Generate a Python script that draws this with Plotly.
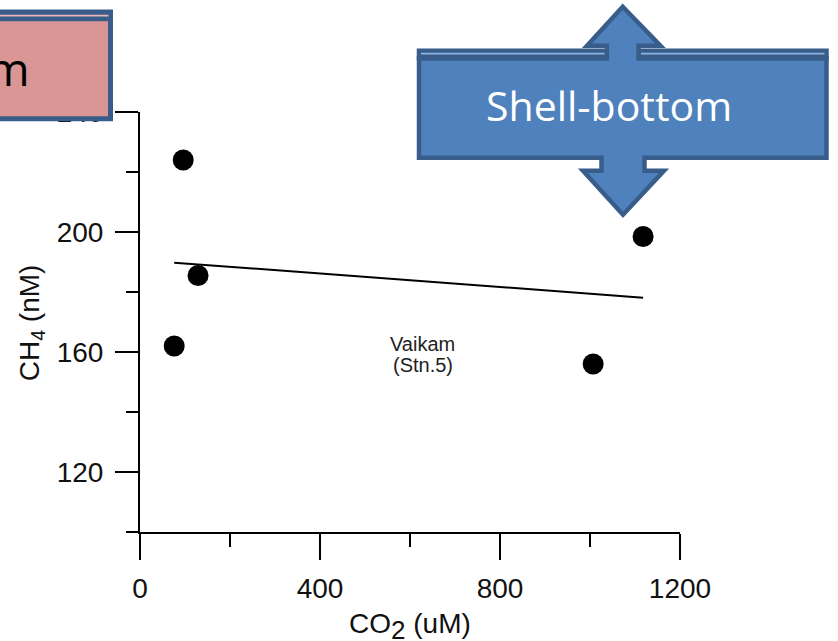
import numpy as np
import plotly.graph_objects as go

# CO2 vs CH4 concentrations at Vaikam (Stn.5)
co2_um = [96, 129, 76, 1118, 1007]
ch4_nm = [224, 185.5, 162, 198.5, 156]

x_range = [0, 1200]
y_range = [100, 240]
x_major = [0, 400, 800, 1200]
y_major = [120, 160, 200, 240]

station_lines = ["Vaikam", "(Stn.5)"]

W, H = 838, 641
# plot area in pixels
PX0, PX1, PY0, PY1 = 140, 680, 111.7, 531.7


def px(x):
    return (x - PX0) / (PX1 - PX0)


def py(y):
    return (PY1 - y) / (PY1 - PY0)


def path(points):
    s = "M " + " L ".join(f"{px(a):.5f},{py(b):.5f}" for a, b in points)
    return s + " Z"


# least-squares trend line across the sampled CO2 span
slope, intercept = np.polyfit(co2_um, ch4_nm, 1)
fit_x = np.array([min(co2_um), max(co2_um)])
fit_y = slope * fit_x + intercept

fig = go.Figure()
fig.add_trace(go.Scatter(
    x=fit_x, y=fit_y, mode="lines",
    line=dict(color="black", width=2), hoverinfo="skip", showlegend=False,
))
fig.add_trace(go.Scatter(
    x=co2_um, y=ch4_nm, mode="markers",
    marker=dict(color="black", size=21, line=dict(width=0)), showlegend=False,
))

tick_font = dict(family="Liberation Sans, Arial, sans-serif", size=28, color="#111111")

fig.update_layout(
    width=W, height=H,
    margin=dict(l=PX0, r=W - PX1, t=PY0, b=H - PY1, autoexpand=False),
    paper_bgcolor="white", plot_bgcolor="white",
    xaxis=dict(
        range=x_range, tickvals=x_major, ticks="outside", ticklen=26, tickwidth=2,
        tickcolor="black", showline=True, linecolor="black", linewidth=2,
        showgrid=False, zeroline=False, tickfont=tick_font, automargin=False,
        minor=dict(dtick=200, tick0=0, ticks="outside", ticklen=13, tickwidth=2,
                   tickcolor="black", showgrid=False),
        ticklabelstandoff=4,
    ),
    yaxis=dict(
        range=y_range, tickvals=y_major, ticks="outside", ticklen=23, tickwidth=2,
        tickcolor="black", showline=True, linecolor="black", linewidth=2,
        showgrid=False, zeroline=False, tickfont=tick_font, automargin=False,
        minor=dict(dtick=20, tick0=0, ticks="outside", ticklen=12, tickwidth=2,
                   tickcolor="black", showgrid=False),
        ticklabelstandoff=6,
    ),
)

title_font = dict(family="Liberation Sans, Arial, sans-serif", size=28, color="#111111")
station_font = dict(family="Liberation Sans, Arial, sans-serif", size=20, color="#222222")
annotations = [
    dict(x=px(31), y=py(322), xref="paper", yref="paper", text="CH<sub>4</sub> (nM)",
         textangle=-90, showarrow=False, font=title_font, xanchor="center", yanchor="middle"),
    dict(x=px(410), y=py(626), xref="paper", yref="paper",
         text='CO<sub><span style="font-size:26px">2</span></sub> (uM)',
         showarrow=False, font=title_font, xanchor="center", yanchor="middle"),
    dict(x=px(422), y=py(344), xref="paper", yref="paper", text=station_lines[0],
         showarrow=False, font=station_font, xanchor="center", yanchor="middle"),
    dict(x=px(423), y=py(364.5), xref="paper", yref="paper", text=station_lines[1],
         showarrow=False, font=station_font, xanchor="center", yanchor="middle"),
    dict(x=px(609), y=py(104.5), xref="paper", yref="paper", text="Shell-bottom",
         showarrow=False, font=dict(family="Open Sans, sans-serif", size=41, color="white"),
         xanchor="center", yanchor="middle"),
    dict(x=px(32), y=py(68), xref="paper", yref="paper", text="m",
         showarrow=False, font=dict(family="Open Sans, sans-serif", size=46, color="black"),
         xanchor="right", yanchor="middle"),
]
fig.update_layout(annotations=annotations)

DARK_BLUE = "#385D8A"
BLUE = "#4F81BD"
LIGHT_BLUE = "#8EB4E3"
PINK = "#D99694"
LIGHT_PINK = "#E8B7B6"

shapes = []
# pink box, cut by the left edge of the page
shapes.append(dict(type="path", xref="paper", yref="paper",
                   path=path([(-10, 18.5), (110.5, 18.5), (110.5, 118.5), (-10, 118.5)]),
                   fillcolor=PINK, line=dict(color=DARK_BLUE, width=5), layer="above"))
shapes.append(dict(type="path", xref="paper", yref="paper",
                   path=path([(-10, 9.3), (113, 9.3), (113, 20.8), (-10, 20.8)]),
                   fillcolor=DARK_BLUE, line=dict(width=0), layer="above"))
shapes.append(dict(type="line", xref="paper", yref="paper",
                   x0=px(-10), x1=px(108.5), y0=py(15.3), y1=py(15.3),
                   line=dict(color=LIGHT_PINK, width=1.8), layer="above"))

# up-down arrow callout
callout = [
    (419, 58), (607, 58), (607, 45.5), (587, 45.5), (622.7, 6.5), (660.5, 45.5),
    (638.5, 45.5), (638.5, 58), (826.5, 58), (826.5, 157.5), (644.5, 157.5),
    (644.5, 170.5), (664, 170.5), (623, 214.5), (583, 170.5), (601.5, 170.5),
    (601.5, 157.5), (419, 157.5),
]
shapes.append(dict(type="path", xref="paper", yref="paper", path=path(callout),
                   fillcolor=BLUE, line=dict(color=DARK_BLUE, width=4.5), layer="above"))
for xa, xb in [(416.75, 609.25), (636.25, 828.75)]:
    shapes.append(dict(type="path", xref="paper", yref="paper",
                       path=path([(xa, 48.3), (xb, 48.3), (xb, 60.3), (xa, 60.3)]),
                       fillcolor=DARK_BLUE, line=dict(width=0), layer="above"))
for xa, xb in [(421, 604.5), (641, 824.5)]:
    shapes.append(dict(type="line", xref="paper", yref="paper",
                       x0=px(xa), x1=px(xb), y0=py(53.3), y1=py(53.3),
                       line=dict(color=LIGHT_BLUE, width=1.8), layer="above"))
# stem fill through the top band
shapes.append(dict(type="path", xref="paper", yref="paper",
                   path=path([(609.25, 45), (636.25, 45), (636.25, 62), (609.25, 62)]),
                   fillcolor=BLUE, line=dict(width=0), layer="above"))
fig.update_layout(shapes=shapes)

fig.write_html("out.html")
